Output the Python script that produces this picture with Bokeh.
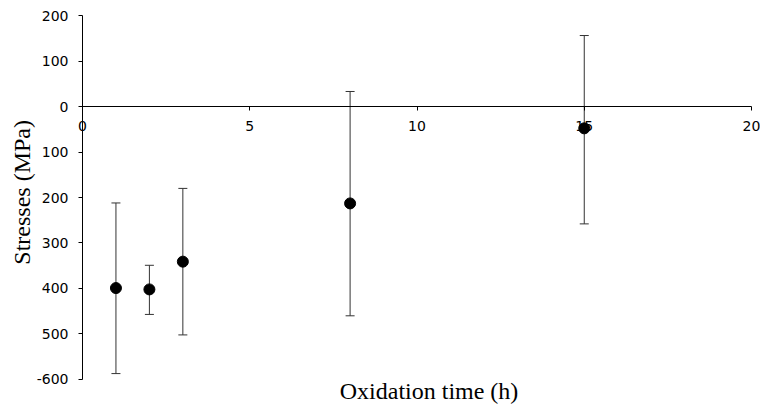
import math
from bokeh.plotting import figure
from bokeh.models import ColumnDataSource, Whisker, TeeHead, FixedTicker, Label, Range1d
from bokeh.embed import file_html
from bokeh.resources import INLINE

times = [1, 2, 3, 8, 15]
stress = [-399, -402, -341, -213, -48]
err_upper = [-212, -349, -180, 33, 156]
err_lower = [-587, -457, -502, -460, -258]

x_ticks = [0, 5, 10, 15, 20]
y_ticks = [-600, -500, -400, -300, -200, -100, 0, 100, 200]
y_tick_labels = ["-600", "500", "400", "300", "200", "100", "0", "100", "200"]

src = ColumnDataSource(dict(x=times, y=stress, upper=err_upper, lower=err_lower))

# frame spans the whole canvas; axes are pinned at x=0 / y=0 and bounded
p = figure(width=760, height=412, output_backend="svg", toolbar_location=None,
           x_range=Range1d(-2.4514, 20.269), y_range=Range1d(-672.53, 232.97),
           min_border_left=0, min_border_right=0, min_border_top=0, min_border_bottom=0)
p.outline_line_color = None
p.grid.visible = False
p.background_fill_color = "white"
p.border_fill_color = "white"

tick_font = "DejaVu Sans"

xa = p.xaxis[0]
xa.fixed_location = 0
xa.bounds = (0, 20)
xa.ticker = FixedTicker(ticks=x_ticks)
xa.axis_line_color = "black"
xa.major_tick_line_color = "black"
xa.major_tick_out = 4
xa.major_tick_in = 0
xa.minor_tick_line_color = None
xa.major_label_text_font = tick_font
xa.major_label_text_font_size = "14px"
xa.major_label_text_color = "black"
xa.major_label_standoff = 10

ya = p.yaxis[0]
ya.fixed_location = 0
ya.bounds = (-600, 200)
ya.ticker = FixedTicker(ticks=y_ticks)
ya.major_label_overrides = {t: s for t, s in zip(y_ticks, y_tick_labels)}
ya.axis_line_color = "black"
ya.major_tick_line_color = "black"
ya.major_tick_out = 4
ya.major_tick_in = 0
ya.minor_tick_line_color = None
ya.major_label_text_font = tick_font
ya.major_label_text_font_size = "14px"
ya.major_label_text_color = "black"
ya.major_label_standoff = 10

wh = Whisker(base="x", upper="upper", lower="lower", source=src,
             line_color="#333333", line_width=1,
             upper_head=TeeHead(size=9, line_color="#333333", line_width=1),
             lower_head=TeeHead(size=9, line_color="#333333", line_width=1))
p.add_layout(wh)

r = p.scatter("x", "y", source=src, size=11, color="black", marker="circle")
r.level = "overlay"

p.add_layout(Label(x=10.36, y=-626, text="Oxidation time (h)",
                   text_align="center", text_baseline="alphabetic",
                   text_font="Liberation Serif", text_font_size="24px", text_color="black"))
p.add_layout(Label(x=-1.80, y=-188.7, angle=math.pi / 2,
                   text="Stresses (MPa)", text_align="center", text_baseline="middle",
                   text_font="Liberation Serif", text_font_size="24px", text_color="black"))

open("out.html", "w").write(file_html(p, INLINE))
